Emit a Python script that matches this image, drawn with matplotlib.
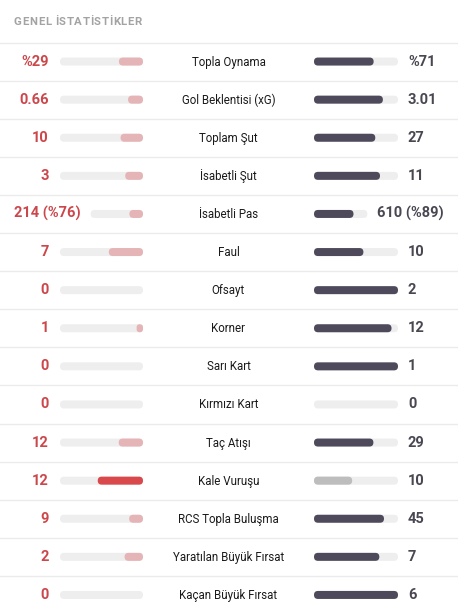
import matplotlib
matplotlib.use("Agg")
import matplotlib.pyplot as plt
from matplotlib.patches import FancyBboxPatch

# match stats (home left, away right)
labels = ["Topla Oynama", "Gol Beklentisi (xG)", "Toplam Şut", "İsabetli Şut",
          "İsabetli Pas", "Faul", "Ofsayt", "Korner", "Sarı Kart", "Kırmızı Kart",
          "Taç Atışı", "Kale Vuruşu", "RCS Topla Buluşma", "Yaratılan Büyük Fırsat",
          "Kaçan Büyük Fırsat"]
home_text = ["%29", "0.66", "10", "3", "214 (%76)", "7", "0", "1", "0", "0",
             "12", "12", "9", "2", "0"]
away_text = ["%71", "3.01", "27", "11", "610 (%89)", "10", "2", "12", "1", "0",
             "29", "10", "45", "7", "6"]
home_vals = [29, 0.66, 10, 3, 214, 7, 0, 1, 0, 0, 12, 12, 9, 2, 0]
away_vals = [71, 3.01, 27, 11, 610, 10, 2, 12, 1, 0, 29, 10, 45, 7, 6]
title = "GENEL İSTATİSTİKLER"

RED = "#cc474c"
RED_FULL = "#d9484b"
PINK = "#e5b4b6"
DARK = "#4e4a5b"
DARK_TXT = "#4a4752"
LGREY = "#bdbdbd"
TRACK = "#eeeeee"
LINE = "#ebebeb"

W, H = 458, 611
plt.rcParams["font.family"] = ["Roboto", "DejaVu Sans"]
fig = plt.figure(figsize=(W / 100, H / 100), dpi=100)
ax = fig.add_axes([0, 0, 1, 1])
ax.set_xlim(0, W)
ax.set_ylim(H, 0)
ax.axis("off")

renderer = fig.canvas.get_renderer()

# header with letter spacing, char by char
x = 14
for ch in title:
    t = ax.text(x, 22, ch, color="#a3a3a3", fontsize=8.2, fontweight="bold",
                va="center", ha="left")
    x += t.get_window_extent(renderer).width + 0.6 if ch != " " else 3.5


def rbar(x, y, w, h, color):
    if w <= 0:
        return
    r = min(4, w / 2)
    ax.add_patch(FancyBboxPatch((x, y - h / 2), w, h,
                                boxstyle="round,pad=0,rounding_size=%f" % r,
                                fc=color, ec="none", mutation_aspect=1))


row_h = 38.1
top = 42.5
for i in range(len(labels)):
    yc = top + row_h * i + row_h / 2
    ax.axhline(top + row_h * i, color=LINE, lw=1)

    # values
    tl = ax.text(49, yc, home_text[i], color=RED, fontsize=10.5, fontweight="bold",
                 ha="right", va="center")
    tr = ax.text(408, yc, away_text[i], color=DARK_TXT, fontsize=10.5,
                 fontweight="bold", ha="left", va="center")
    bl = tl.get_window_extent(renderer)
    br = tr.get_window_extent(renderer)
    if bl.width > 35:
        tl.set_x(14 + bl.width)
    if br.width > 36:
        tr.set_x(444 - br.width)
    lx0 = max(60, 14 + bl.width + 10)
    rx1 = min(398, 444 - br.width - 10)

    ax.text(228.5, yc + 0.5, labels[i], color="#1a1a1a", fontsize=8.3,
            ha="center", va="center")

    # tracks
    lw_ = 143 - lx0
    rw_ = rx1 - 314
    rbar(lx0, yc, lw_, 8, TRACK)
    rbar(314, yc, rw_, 8, TRACK)

    tot = home_vals[i] + away_vals[i]
    if tot > 0:
        fl = home_vals[i] / tot
        fr = away_vals[i] / tot
        lc = RED_FULL if home_vals[i] > away_vals[i] else PINK
        rc = DARK if away_vals[i] > home_vals[i] else LGREY
        rbar(143 - fl * lw_, yc, fl * lw_, 8, lc)
        rbar(314, yc, fr * rw_, 8, rc)

fig.savefig("out.png", dpi=100)
